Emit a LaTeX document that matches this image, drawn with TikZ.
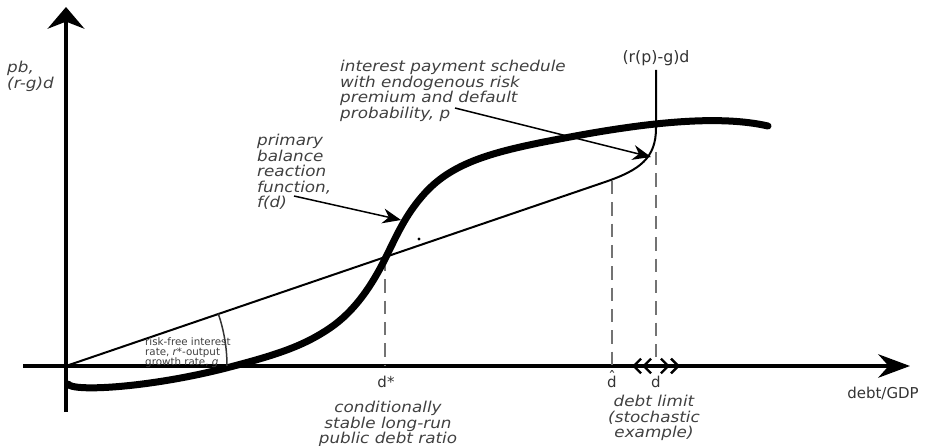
\documentclass[tikz,border=0pt]{standalone}
\usepackage{fontspec}
\setmainfont{DejaVu Sans}
\newfontfamily\notefont{DejaVu Sans}[FakeStretch=1.12]
\usetikzlibrary{arrows.meta}
\begin{document}
\begin{tikzpicture}[x=0.3mm, y=-0.3mm,
    axis/.style = {line width=1.3mm},
    note/.style = {font=\notefont\fontsize{12.8}{13.2}\selectfont\itshape, text=black!75, inner sep=0pt},
    tick/.style = {font=\fontsize{12.8}{13.2}\selectfont, text=black!80, inner sep=0pt},
    guide/.style = {draw=black!55, line width=0.45mm, dash pattern=on 4mm off 2.4mm},
    pointer/.style = {line width=0.45mm, -{Stealth[length=5.5mm, width=4.5mm]}},
    barbs/.style = {line width=0.7mm, {Straight Barb[length=2.2mm,width=4.4mm]Straight Barb[length=2.2mm,width=4.4mm]}-{Straight Barb[length=2.2mm,width=4.4mm]Straight Barb[length=2.2mm,width=4.4mm]}}]
    \useasboundingbox (0,0) rectangle (928,446);

    \coordinate (O) at (66,366);
    \coordinate (ytop) at (66,7);
    \coordinate (ybot) at (66,412);
    \coordinate (xleft) at (23,366);
    \coordinate (xright) at (910,366);
    \coordinate (dstar) at (385,258);
    \coordinate (dhat) at (612,181);
    \coordinate (dlim) at (656,152);
    \coordinate (bend) at (605,182);
    \coordinate (vert) at (656,128);
    \coordinate (rtop) at (656,70);
    \coordinate (fdtail) at (294,196);
    \coordinate (fdhit) at (401,220);
    \coordinate (iptail) at (455,108);
    \coordinate (iphit) at (651,157);
    \coordinate (dleft) at (632,366);
    \coordinate (dright) at (680,366);

    \draw[axis, -{Stealth[length=6.5mm, width=11mm]}] (ybot) -- (ytop);
    \draw[axis, -{Stealth[length=9.5mm, width=7mm]}] (xleft) -- (xright);

    \draw[guide] (dstar) -- (dstar |- O);
    \draw[guide] (dhat) -- (dhat |- O);
    \draw[guide] (dlim) -- (dlim |- O);

    \draw[line width=0.6mm] (O) -- (bend) .. controls (640,170) and (656,158) .. (vert) -- (rtop);
    \draw[line width=2.1mm, line cap=round] (68,384) .. controls (72,392) and (150,388) .. (230,367)
        .. controls (280,354) and (305,345) .. (330,328)
        .. controls (355,311) and (372,285) .. (385,259)
        .. controls (396,237) and (405,215) .. (425,193)
        .. controls (455,160) and (500,150) .. (570,137)
        .. controls (650,122) and (720,115) .. (768,126);

    \draw[line width=0.45mm, black!80] (227,366) arc[start angle=0, end angle=-19, radius=161];
    \fill (419,239) circle[radius=0.5mm];
    \draw[barbs] (dleft) -- (dright);

    \node[note, anchor=north west, align=left] (pbl) at (7,61) {pb,\\(r-g)d};
    \node[note, anchor=north west, align=left] (primary) at (257,134) {primary\\balance\\reaction\\function,\\f(d)};
    \node[note, anchor=north west, align=left] (sched) at (340,60) {interest payment schedule\\with endogenous risk\\premium and default\\probability, p};
    \node[note, anchor=north, align=center] (stable) at (388,401) {conditionally\\stable long-run\\public debt ratio};
    \node[note, anchor=north, align=center] (limit) at (654,395) {debt limit\\(stochastic\\example)};
    \node[font=\fontsize{8.8}{8.6}\selectfont, text=black!75, align=left, inner sep=0pt, anchor=north west] (rate) at (145,337) {risk-free interest\\rate, \textit{r*}-output\\growth rate, \textit{g}};

    \node[tick, font=\fontsize{13.5}{14}\selectfont] (rpg) at (656,58) {(r(p)-g)d};
    \node[tick, anchor=base] (dsl) at (386,387) {d*};
    \node[tick, anchor=base] (dhl) at (612,387) {\ooalign{\hidewidth\raisebox{3.5pt}{\char"02C6}\hidewidth\cr d\cr}};
    \node[tick, anchor=base] (dll) at (656,387) {d};
    \node[tick] (xlabel) at (883,393) {debt/GDP};

    \draw[pointer] (fdtail) -- (fdhit);
    \draw[pointer] (iptail) -- (iphit);
\end{tikzpicture}
\end{document}
